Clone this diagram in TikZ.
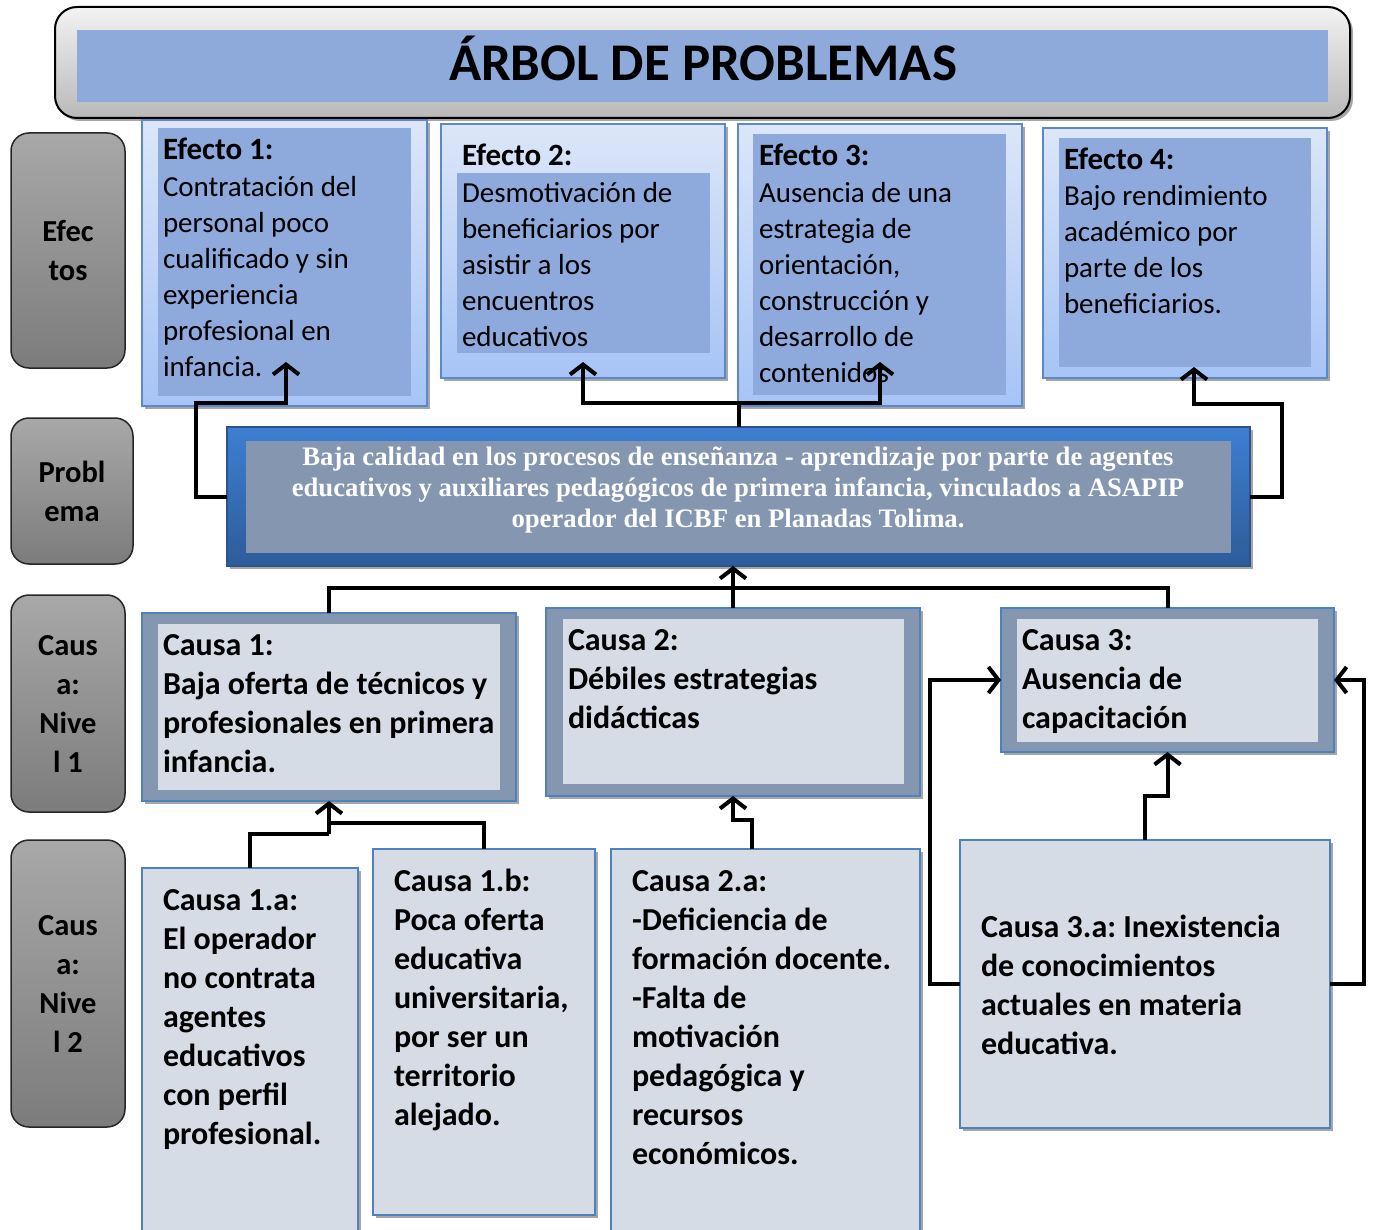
\documentclass[tikz,border=0pt]{standalone}
\usepackage{fontspec}
\setmainfont{Carlito}
\newfontfamily\timesf{Liberation Serif}
\usetikzlibrary{arrows.meta,shadows}
\frenchspacing
\definecolor{titleblue}{HTML}{8EAADB}
\definecolor{efftop}{HTML}{DCE6F8}
\definecolor{effbot}{HTML}{A6C4F6}
\definecolor{effedge}{HTML}{5A88C8}
\definecolor{effin}{HTML}{8EA9DB}
\definecolor{lbltop}{HTML}{A8A8A8}
\definecolor{lblbot}{HTML}{7C7C7C}
\definecolor{probtop}{HTML}{3D7FD2}
\definecolor{probbot}{HTML}{2D5C99}
\definecolor{probedge}{HTML}{2F528F}
\definecolor{probin}{HTML}{8496B0}
\definecolor{causein}{HTML}{D6DCE5}
\definecolor{causeedge}{HTML}{4F81BD}
\newcommand\bx[6]{\node[#1, minimum width={#5-#3}, minimum height={#6-#4}] (#2) at ({(#3+#5)/2},{(#4+#6)/2}) {};}
\tikzset{
  shad/.style={drop shadow={shadow xshift=3pt,shadow yshift=-3pt,opacity=.35,fill=black}},
  titleouter/.style={shad,rounded corners=22pt,draw=black,line width=2pt,top color=white!90!gray,bottom color=gray!55},
  titleinner/.style={fill=titleblue},
  lblbox/.style={rounded corners=18pt,draw=black!85,line width=1.5pt,top color=lbltop,bottom color=lblbot},
  lbltext/.style={font=\fontsize{30.5}{39}\selectfont\bfseries,align=center},
  effouter/.style={shad,draw=effedge,line width=1.3pt,top color=efftop,bottom color=effbot},
  effinner/.style={fill=effin},
  probouter/.style={shad,draw=probedge,line width=1.2pt,top color=probtop,bottom color=probbot},
  probinner/.style={fill=probin},
  c1outer/.style={shad,draw=causeedge,line width=1.2pt,fill=probin},
  c1inner/.style={fill=causein},
  c2box/.style={shad,draw=causeedge,line width=1.3pt,fill=causein},
  effhead/.style={anchor=base west,font=\fontsize{31}{36}\selectfont\bfseries},
  effbody/.style={anchor=base west,text width=300pt,align=flush left,font=\fontsize{29}{36}\selectfont},
  causetext/.style={anchor=base west,text width=360pt,align=flush left,font=\fontsize{32}{39}\selectfont\bfseries},
  conn/.style={line width=4pt,draw=black,line join=miter},
  arr/.style={conn,-{Straight Barb[length=10pt,width=26pt]}}
}
\begin{document}
\begin{tikzpicture}[x=1pt,y=-1pt,every node/.style={inner sep=0pt,outer sep=0pt}]
\useasboundingbox (0,0) rectangle (1375,1230);
% title
\bx{titleouter}{T}{55}{7}{1350}{118}
\bx{titleinner}{Tin}{77}{30}{1328}{102}
\node[anchor=base,font=\fontsize{53}{60}\selectfont\bfseries] (Ttext) at (703,81) {ÁRBOL DE PROBLEMAS};
% left labels
\bx{lblbox}{L1}{11}{133}{125}{368}
\bx{lblbox}{L2}{11}{418}{133}{564}
\bx{lblbox}{L3}{11}{595}{125}{812}
\bx{lblbox}{L4}{11}{840}{125}{1127}
\node[lbltext] (L1t) at (L1) {Efec\\tos};
\node[lbltext] (L2t) at (L2) {Probl\\ema};
\node[lbltext] (L3t) at (L3) {Caus\\a:\\Nive\\l 1};
\node[lbltext] (L4t) at (L4) {Caus\\a:\\Nive\\l 2};
% effects
\bx{effouter}{E1}{142}{120}{427}{406}
\bx{effinner}{E1in}{158}{128}{411}{396}
\bx{effouter}{E2}{441}{124}{725}{378}
\bx{effinner}{E2in}{457}{173}{710}{353}
\bx{effouter}{E3}{738}{124}{1022}{406}
\bx{effinner}{E3in}{753}{134}{1006}{395}
\bx{effouter}{E4}{1043}{128}{1327}{378}
\bx{effinner}{E4in}{1059}{138}{1311}{367}
\node[effhead] (E1h) at (163,160) {Efecto 1:};
\node[effbody] (E1b) at (163,197) {Contratación del\\personal poco\\cualificado y sin\\experiencia\\profesional en\\infancia.};
\node[effhead] (E2h) at (462,166) {Efecto 2:};
\node[effbody] (E2b) at (462,203) {Desmotivación de\\beneficiarios por\\asistir a los\\encuentros\\educativos};
\node[effhead] (E3h) at (759,166) {Efecto 3:};
\node[effbody] (E3b) at (759,203) {Ausencia de una\\estrategia de\\orientación,\\construcción y\\desarrollo de\\contenidos};
\node[effhead] (E4h) at (1064,170) {Efecto 4:};
\node[effbody] (E4b) at (1064,206) {Bajo rendimiento\\académico por\\parte de los\\beneficiarios.};
% problem
\bx{probouter}{P}{227}{427}{1250}{566}
\bx{probinner}{Pin}{246}{441}{1231}{553}
\node[font=\timesf\bfseries\fontsize{26.7}{31}\selectfont,text=white,align=center] (Pt) at (738,490)
  {Baja calidad en los procesos de enseñanza - aprendizaje por parte de agentes\\educativos y auxiliares pedagógicos de primera infancia, vinculados a ASAPIP\\operador del ICBF en Planadas Tolima.};
% causes level 1
\bx{c1outer}{C1}{142}{613}{516}{801}
\bx{c1inner}{C1in}{158}{624}{500}{790}
\bx{c1outer}{C2}{546}{608}{920}{796}
\bx{c1inner}{C2in}{563}{619}{904}{784}
\bx{c1outer}{C3}{1001}{608}{1334}{752}
\bx{c1inner}{C3in}{1017}{619}{1318}{742}
\node[causetext] (C1t) at (163,655) {Causa 1:\\Baja oferta de técnicos y\\profesionales en primera\\infancia.};
\node[causetext] (C2t) at (568,650) {Causa 2:\\Débiles estrategias\\didácticas};
\node[causetext] (C3t) at (1022,650) {Causa 3:\\Ausencia de\\capacitación};
% causes level 2
\bx{c2box}{C1a}{142}{868}{358}{1240}
\bx{c2box}{C1b}{373}{849}{595}{1215}
\bx{c2box}{C2a}{611}{849}{920}{1240}
\bx{c2box}{C3a}{960}{840}{1330}{1128}
\node[causetext] (C1at) at (163,910) {Causa 1.a:\\El operador\\no contrata\\agentes\\educativos\\con perfil\\profesional.};
\node[causetext] (C1bt) at (394,891) {Causa 1.b:\\Poca oferta\\educativa\\universitaria,\\por ser un\\territorio\\alejado.};
\node[causetext] (C2at) at (632,891) {Causa 2.a:\\-Deficiencia de\\formación docente.\\-Falta de\\motivación\\pedagógica y\\recursos\\económicos.};
\node[causetext] (C3at) at (981,937) {Causa 3.a: Inexistencia\\de conocimientos\\actuales en materia\\educativa.};
% connector coordinates
\coordinate (e1tip) at (286,362);
\coordinate (e2tip) at (583,362);
\coordinate (e3tip) at (880,362);
\coordinate (e4tip) at (1194,367);
\coordinate (pj) at (P.north |- 0,403);
\coordinate (cj) at (P.south |- 0,588);
\coordinate (c1j) at (C1.south |- 0,834);
% problem -> effects
\draw[arr] (P.west) -| (196,403) -| (e1tip);
\draw[conn] (P.north) -- (pj);
\draw[arr] (pj) -| (e2tip);
\draw[arr] (pj) -| (e3tip);
\draw[arr] (P.east) -| (1282,404) -| (e4tip);
% causes -> problem
\draw[conn] (C1.north) |- (cj) -| (C3.north);
\draw[arr] (C2.north) -- (C2.north |- P.south);
% level 2 -> level 1
\draw[conn] (C1a.north) |- (c1j);
\draw[conn] (C1b.north) |- (C1.south |- 0,823);
\draw[arr] (c1j) -- (C1.south);
\draw[arr] ([xshift=-14pt]C2a.north) |- (C2.south |- 0,820) -- (C2.south);
\draw[arr] (C3a.north) |- (C3.south |- 0,796) -- (C3.south);
\draw[arr] (C3a.west) -| (930,680) -- (C3.west);
\draw[arr] (C3a.east) -| (1364,680) -- (C3.east);
\end{tikzpicture}
\end{document}
